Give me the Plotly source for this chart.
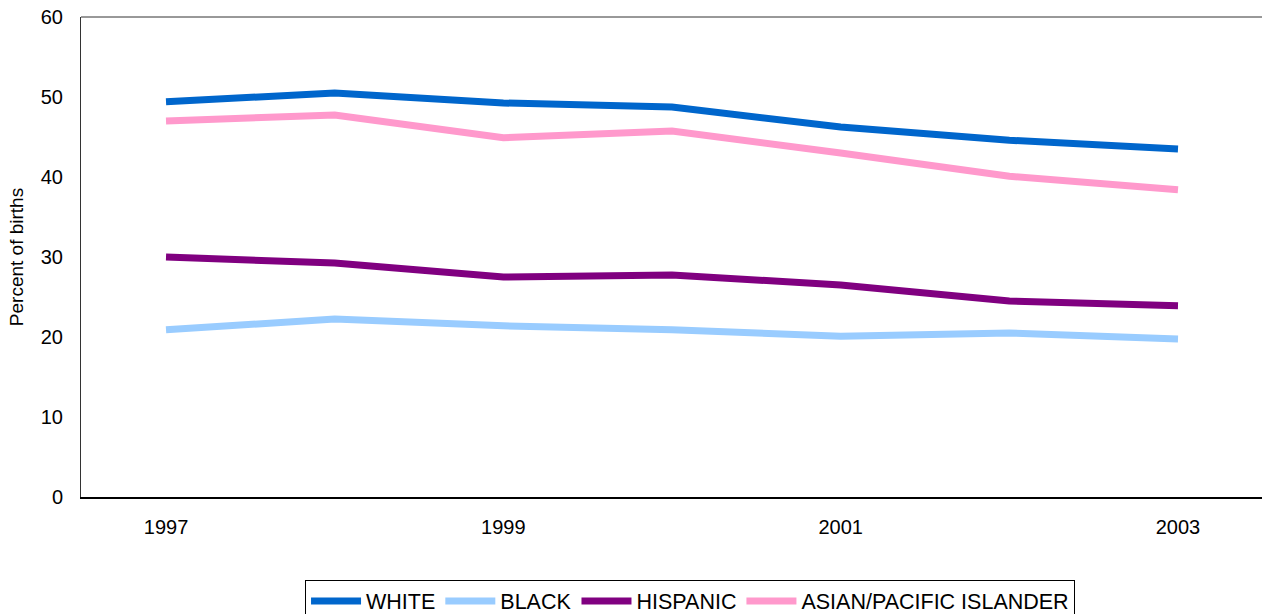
import plotly.graph_objects as go

# Datos
years = [1997, 1998, 1999, 2000, 2001, 2002, 2003]
white = [49.4, 50.5, 49.25, 48.75, 46.25, 44.6, 43.5]
black = [20.9, 22.25, 21.4, 20.9, 20.1, 20.5, 19.75]
hispanic = [30.0, 29.25, 27.5, 27.75, 26.5, 24.5, 23.9]
asian = [47.0, 47.75, 44.9, 45.75, 43.0, 40.1, 38.4]

series = [
    ("WHITE", white, "#0066CC"),
    ("BLACK", black, "#99CCFF"),
    ("HISPANIC", hispanic, "#800080"),
    ("ASIAN/PACIFIC ISLANDER", asian, "#FF99CC"),
]

fig = go.Figure()
for name, vals, color in series:
    fig.add_trace(go.Scatter(
        x=years, y=vals, name=name, mode="lines",
        line=dict(color=color, width=7),
    ))

fig.update_layout(
    width=1262, height=614,
    margin=dict(l=81, r=0, t=17, b=117, autoexpand=False),
    plot_bgcolor="white",
    paper_bgcolor="white",
    font=dict(family="Liberation Sans, Arial", color="black", size=20),
    showlegend=True,
    legend=dict(
        orientation="h", x=0.1897, xanchor="left", y=-0.172, yanchor="top",
        bordercolor="black", borderwidth=1, font=dict(size=21.5),
        itemwidth=50, tracegroupgap=0,
    ),
    xaxis=dict(
        range=[1996.496, 2003.498], tickvals=[1997, 1999, 2001, 2003],
        showgrid=False, zeroline=False, showline=True,
        linecolor="black", linewidth=2, ticks="", ticklabelstandoff=11,
    ),
    yaxis=dict(
        range=[0, 60], dtick=10, showgrid=False, zeroline=False,
        showline=True, linecolor="#333333", linewidth=1, ticks="",
        ticklabelstandoff=13,
        title=dict(text="Percent of births", font=dict(size=19), standoff=12),
    ),
    shapes=[dict(type="line", xref="paper", yref="paper", x0=0, x1=1, y0=1, y1=1,
                 line=dict(color="#333333", width=1))],
)

# quitar el margen del body para que la figura ocupe toda la ventana
fig.write_html(
    "out.html",
    config={"displayModeBar": False},
    post_script="document.body.style.margin='0';",
)
